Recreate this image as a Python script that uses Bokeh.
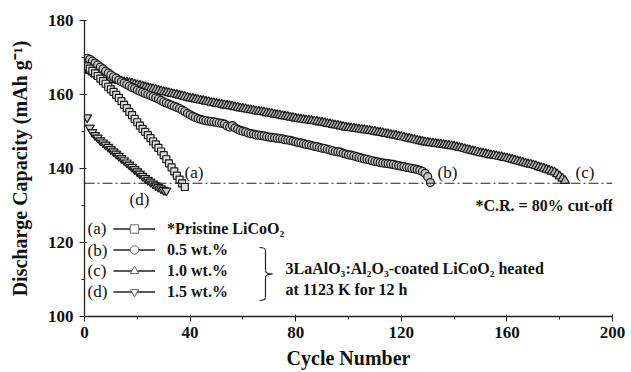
from bokeh.plotting import figure
from bokeh.models import Range1d, SingleIntervalTicker, Label, Span, Legend, LegendItem
from bokeh.embed import file_html
from bokeh.resources import INLINE

# ---------------- data ----------------
cap_a = [167.6, 167.0, 166.4, 165.7, 165.0, 164.3, 163.6, 162.9, 162.1, 161.4,
         160.7, 159.9, 159.1, 158.2, 157.2, 156.3, 155.3, 154.4, 153.4, 152.5,
         151.6, 150.7, 149.9, 149.0, 148.2, 147.3, 146.5, 145.6, 144.6, 143.6,
         142.5, 141.4, 140.3, 139.2, 138.1, 137.0, 136.0, 135.0]

cap_b = [169.8, 169.5, 169.0, 168.5, 168.0, 167.4, 166.9, 166.3, 165.8, 165.3,
         164.8, 164.4, 163.9, 163.5, 163.1, 162.7, 162.3, 161.9, 161.6, 161.2,
         160.9, 160.6, 160.3, 160.0, 159.7, 159.4, 159.1, 158.8, 158.4, 158.0,
         157.7, 157.4, 157.1, 156.8, 156.5, 156.2, 155.8, 155.4, 154.9, 154.5,
         154.1, 153.8, 153.5, 153.3, 153.1, 152.9, 152.8, 152.7, 152.6, 152.5,
         152.3, 152.2, 152.0, 151.5, 151.2, 151.6, 151.0, 150.6, 150.3, 150.1,
         149.9, 149.6, 149.4, 149.3, 149.1, 149.0, 148.9, 148.8, 148.6, 148.5,
         148.4, 148.3, 148.2, 148.1, 148.0, 147.8, 147.7, 147.6, 147.4, 147.2,
         147.0, 146.9, 146.7, 146.5, 146.4, 146.2, 146.0, 145.9, 145.7, 145.5,
         145.4, 145.2, 145.0, 144.8, 144.6, 144.5, 144.4, 144.1, 143.9, 143.7,
         143.6, 143.4, 143.2, 143.0, 142.8, 142.6, 142.5, 142.3, 142.1, 141.9,
         141.8, 141.6, 141.5, 141.4, 141.3, 141.2, 141.1, 140.9, 140.8, 140.6,
         140.5, 140.3, 140.2, 140.0, 139.9, 139.7, 139.5, 139.2, 138.7, 137.8,
         136.2]

cap_c = [166.8, 166.4, 166.0, 165.5, 165.1, 164.8, 164.6, 164.5, 164.3, 164.2,
         164.0, 163.9, 163.7, 163.6, 163.4, 163.3, 163.1, 163.0, 162.8, 162.6,
         162.4, 162.2, 162.0, 161.8, 161.6, 161.5, 161.3, 161.1, 160.9, 160.7,
         160.6, 160.4, 160.2, 160.1, 159.9, 159.7, 159.6, 159.4, 159.2, 159.0,
         158.9, 158.7, 158.6, 158.4, 158.3, 158.1, 158.0, 157.8, 157.7, 157.5,
         157.4, 157.3, 157.1, 157.0, 156.9, 156.8, 156.6, 156.5, 156.3, 156.2,
         156.1, 155.9, 155.8, 155.7, 155.5, 155.4, 155.3, 155.2, 155.0, 154.9,
         154.8, 154.6, 154.5, 154.4, 154.2, 154.1, 154.0, 153.8, 153.7, 153.5,
         153.4, 153.3, 153.2, 153.1, 153.0, 152.9, 152.8, 152.7, 152.5, 152.4,
         152.3, 152.1, 152.0, 151.8, 151.7, 151.6, 151.4, 151.3, 151.1, 151.0,
         150.9, 150.8, 150.7, 150.6, 150.5, 150.4, 150.3, 150.2, 150.1, 150.0,
         149.8, 149.7, 149.6, 149.4, 149.3, 149.1, 149.0, 148.9, 148.7, 148.6,
         148.4, 148.2, 148.1, 147.9, 147.8, 147.6, 147.4, 147.3, 147.1, 147.0,
         146.9, 146.8, 146.7, 146.6, 146.5, 146.4, 146.3, 146.2, 146.1, 146.0,
         145.8, 145.6, 145.5, 145.3, 145.1, 144.9, 144.7, 144.6, 144.4, 144.2,
         144.1, 143.9, 143.8, 143.6, 143.5, 143.4, 143.2, 143.1, 142.9, 142.8,
         142.6, 142.4, 142.2, 142.0, 141.8, 141.6, 141.4, 141.2, 141.1, 140.9,
         140.7, 140.4, 140.2, 140.0, 139.7, 139.5, 139.2, 139.0, 138.5, 137.9,
         137.3, 136.7]

cap_d = [153.8, 151.0, 149.8, 149.0, 148.3, 147.6, 147.0, 146.4, 145.8, 145.2,
         144.6, 144.0, 143.4, 142.8, 142.2, 141.6, 141.0, 140.4, 139.8, 139.2,
         138.6, 138.0, 137.4, 136.9, 136.4, 135.9, 135.4, 135.0, 134.6, 134.2,
         134.0]

cyc_a = list(range(1, len(cap_a) + 1))
cyc_b = list(range(1, len(cap_b) + 1))
cyc_c = list(range(1, len(cap_c) + 1))
cyc_d = list(range(1, len(cap_d) + 1))

cutoff = 136.0
series_tags = ["(a)", "(b)", "(c)", "(d)"]
legend_labels = ["*Pristine LiCoO\u2082", "0.5 wt.%", "1.0 wt.%", "1.5 wt.%"]

# ---------------- figure ----------------
W, H = 631, 372
L, R, T, B = 84, 19, 20, 56
FONT = "Liberation Serif"

p = figure(width=W, height=H, output_backend="svg", toolbar_location=None,
           x_range=Range1d(0, 200), y_range=Range1d(100, 180),
           min_border_left=L, min_border_right=R, min_border_top=T, min_border_bottom=B)
p.outline_line_color = None
p.grid.visible = False
p.background_fill_color = "white"
p.border_fill_color = "white"

# pixel helpers for annotations (screen px -> data)
PX = (W - L - R) / 200.0
PY = (H - T - B) / 80.0
def dx(px):
    return (px - L) / PX
def dy(py):
    return 180 - (py - T) / PY

# axes
for ax in (p.xaxis[0], p.yaxis[0]):
    ax.axis_line_color = "#222222"
    ax.axis_line_width = 1.3
    ax.major_tick_line_color = "#222222"
    ax.minor_tick_line_color = "#222222"
    ax.major_label_text_font = FONT
    ax.major_label_text_font_style = "bold"
    ax.major_label_text_font_size = "17px"
    ax.major_label_text_color = "#111111"
    ax.axis_label_text_font = FONT
    ax.axis_label_text_font_style = "bold"
    ax.axis_label_text_font_size = "20px"
    ax.axis_label_text_color = "#111111"
    ax.major_tick_out = 5
    ax.major_tick_in = 2
    ax.minor_tick_out = 3
    ax.minor_tick_in = 0

p.xaxis.ticker = SingleIntervalTicker(interval=40, num_minor_ticks=2)
p.yaxis.ticker = SingleIntervalTicker(interval=20, num_minor_ticks=2)
p.xaxis.axis_label = "Cycle Number"
p.yaxis.axis_label = "Discharge Capacity (mAh g\u207b\u00b9)"
p.xaxis.major_label_standoff = 5
p.yaxis.major_label_standoff = 6
p.xaxis.axis_label_standoff = 6
p.yaxis.axis_label_standoff = 14

# cut-off line
p.add_layout(Span(location=cutoff, dimension="width", line_color="#222222",
                  line_width=1.1, line_dash="10 3 2 3"))

# ---------------- series ----------------
EDGE = "#1a1a1a"
series = [
    (cyc_c, cap_c, "triangle", 9, "#b8b8b8"),
    (cyc_b, cap_b, "circle", 8, "#c4c4c4"),
    (cyc_d, cap_d, "inverted_triangle", 9, "#d0d0d0"),
    (cyc_a, cap_a, "square", 7, "#e2e2e2"),
]
for xs, ys, mk, sz, fc in series:
    p.scatter(xs, ys, marker=mk, size=sz, fill_color=fc,
              line_color=EDGE, line_width=1.2)

# legend samples (hidden renderers sharing the series data)
legend_data = [(cyc_a, cap_a, "square"), (cyc_b, cap_b, "circle"),
               (cyc_c, cap_c, "triangle"), (cyc_d, cap_d, "inverted_triangle")]
items = []
for lab, (xs, ys, mk) in zip(legend_labels, legend_data):
    lr = p.line(xs, ys, line_color="#222222", line_width=1.4, visible=False)
    sr = p.scatter(xs, ys, marker=mk, size=8, fill_color="white",
                   line_color="#666666", line_width=1, visible=False)
    items.append(LegendItem(label=lab, renderers=[lr, sr]))

legend = Legend(items=items, location=(29, 14), orientation="vertical",
                glyph_width=42, glyph_height=21, label_height=21, spacing=0,
                label_standoff=12, padding=0, margin=0,
                border_line_color=None, background_fill_alpha=0,
                label_text_font=FONT, label_text_font_style="bold",
                label_text_font_size="16px", label_text_color="#111111")
p.add_layout(legend, "center")

# ---------------- text annotations ----------------
def label(px, py, text, size="17px", style="normal", align="left"):
    p.add_layout(Label(x=dx(px), y=dy(py), text=text, text_font=FONT,
                       text_font_size=size, text_font_style=style,
                       text_align=align, text_baseline="middle",
                       text_color="#111111"))

# series tags next to curve ends
label(184, 172, series_tags[0])
label(437, 172, series_tags[1])
label(575, 172, series_tags[2])
label(129, 199, series_tags[3])

# legend tags on the left
for tag, py in zip(series_tags, [228, 250, 270, 291]):
    label(87, py, tag)

label(475, 205, "*C.R. = 80% cut-off", size="16px", style="bold")
label(285, 268, "3LaAlO\u2083:Al\u2082O\u2083-coated LiCoO\u2082 heated", size="16px", style="bold")
label(285, 289, "at 1123 K for 12 h", size="16px", style="bold")

# brace
bx0, bx1, bxt = 259, 265, 272
by0, bym, by1 = 247, 273.5, 300
p.quadratic(x0=[dx(bx0), dx(bx1), dx(bxt), dx(bx1)],
            y0=[dy(by0), dy(bym - 3.5), dy(bym), dy(by1 - 3)],
            x1=[dx(bx1), dx(bxt), dx(bx1), dx(bx0)],
            y1=[dy(by0 + 3), dy(bym), dy(bym + 3.5), dy(by1)],
            cx=[dx(bx1), dx(bx1), dx(bx1), dx(bx1)],
            cy=[dy(by0), dy(bym), dy(bym), dy(by1)],
            line_color="#222222", line_width=1.2)
p.segment(x0=[dx(bx1), dx(bx1)], y0=[dy(by0 + 3), dy(bym + 3.5)],
          x1=[dx(bx1), dx(bx1)], y1=[dy(bym - 3.5), dy(by1 - 3)],
          line_color="#222222", line_width=1.2)

open("out.html", "w").write(file_html(p, INLINE))
